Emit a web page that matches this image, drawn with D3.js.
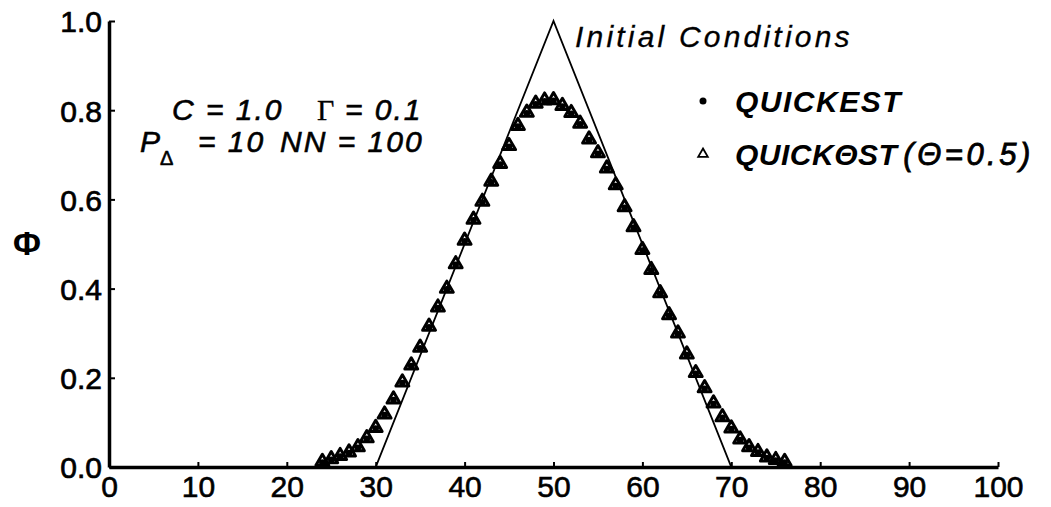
<!DOCTYPE html>
<html>
<head>
<meta charset="utf-8">
<script src="https://cdn.jsdelivr.net/npm/d3@7"></script>
<style>
  html, body { margin: 0; padding: 0; background: #fff; }
  svg { display: block; }
  text { font-family: "Liberation Sans", Arial, Helvetica, sans-serif; fill: #000; }
</style>
</head>
<body>
<svg id="chart" width="1051" height="507"></svg>
<script>
// ---- data ----
const xTicks = [0, 10, 20, 30, 40, 50, 60, 70, 80, 90, 100];
const yTicks = [0.0, 0.2, 0.4, 0.6, 0.8, 1.0];
const yTickLabels = ["0.0", "0.2", "0.4", "0.6", "0.8", "1.0"];

// initial conditions (triangle)
const initX = [0, 30, 50, 70, 100];
const initPhi = [0, 0, 1.0, 0, 0];

// grid nodes where the solutions are plotted
const nodeX = [24, 25, 26, 27, 28, 29, 30, 31, 32, 33, 34, 35, 36, 37, 38, 39, 40,
  41, 42, 43, 44, 45, 46, 47, 48, 49, 50, 51, 52, 53, 54, 55, 56, 57, 58, 59, 60,
  61, 62, 63, 64, 65, 66, 67, 68, 69, 70, 71, 72, 73, 74, 75, 76];

// QUICKEST (dots)
const phiQuickest = [0.012, 0.018, 0.025, 0.033, 0.045, 0.065, 0.088, 0.118, 0.152, 0.19,
  0.228, 0.268, 0.315, 0.358, 0.40, 0.455, 0.508, 0.555, 0.595, 0.64, 0.68, 0.72, 0.765,
  0.795, 0.815, 0.822, 0.823, 0.81, 0.794, 0.77, 0.735, 0.704, 0.67, 0.632, 0.583, 0.538,
  0.487, 0.442, 0.39, 0.341, 0.30, 0.253, 0.211, 0.177, 0.143, 0.112, 0.087, 0.062, 0.045,
  0.034, 0.022, 0.016, 0.012];

// QUICK-theta-ST, theta = 0.5 (open triangles)
const phiQuickTheta = [0.012, 0.018, 0.025, 0.033, 0.045, 0.065, 0.088, 0.118, 0.152, 0.19,
  0.228, 0.268, 0.315, 0.358, 0.40, 0.455, 0.508, 0.555, 0.595, 0.64, 0.68, 0.72, 0.765,
  0.795, 0.815, 0.822, 0.823, 0.81, 0.794, 0.77, 0.735, 0.704, 0.67, 0.632, 0.583, 0.538,
  0.487, 0.442, 0.39, 0.341, 0.30, 0.253, 0.211, 0.177, 0.143, 0.112, 0.087, 0.062, 0.045,
  0.034, 0.022, 0.016, 0.012];

// ---- drawing ----
const svg = d3.select("#chart");
const x = d3.scaleLinear().domain([0, 100]).range([109, 998]);
const y = d3.scaleLinear().domain([0, 1]).range([467, 21]);

// axes
const xAxis = d3.axisBottom(x).tickValues(xTicks).tickSizeInner(-5).tickSizeOuter(0).tickPadding(13)
  .tickFormat(d => String(d));
const gx = svg.append("g").attr("transform", `translate(0,${y(0)})`).call(xAxis);
gx.select(".domain").attr("stroke", "#000").attr("stroke-width", 3.5);
gx.selectAll(".tick line").attr("stroke", "#000").attr("stroke-width", 2);
gx.selectAll(".tick text").attr("font-size", 30).attr("dy", "0.71em")
  .attr("y", 9).attr("stroke", "#000").attr("stroke-width", 0.6)
  .style("font-family", '"Liberation Sans", Arial, sans-serif');

const yAxis = d3.axisLeft(y).tickValues(yTicks).tickSizeInner(-6).tickSizeOuter(0).tickPadding(8)
  .tickFormat((d, i) => yTickLabels[i]);
const gy = svg.append("g").attr("transform", `translate(${x(0)},0)`).call(yAxis);
gy.select(".domain").attr("stroke", "#000").attr("stroke-width", 3.5);
gy.selectAll(".tick line").attr("stroke", "#000").attr("stroke-width", 2);
gy.selectAll(".tick text").attr("font-size", 30).attr("x", -7).attr("dy", "0.36em")
  .attr("stroke", "#000").attr("stroke-width", 0.7)
  .style("font-family", '"Liberation Sans", Arial, sans-serif');

// initial conditions line
const initData = initX.map((d, i) => [d, initPhi[i]]);
svg.append("path")
  .datum(initData)
  .attr("fill", "none")
  .attr("stroke", "#000")
  .attr("stroke-width", 1.8)
  .attr("stroke-linejoin", "miter")
  .attr("d", d3.line().x(d => x(d[0])).y(d => y(d[1])));

// QUICKTHETAST triangles
const tri = d3.symbol().type(d3.symbolTriangle).size(72);
svg.append("g").selectAll("path")
  .data(nodeX.map((d, i) => [d, phiQuickTheta[i]]))
  .join("path")
  .attr("d", tri)
  .attr("transform", d => `translate(${x(d[0])},${y(d[1])})`)
  .attr("fill", "none")
  .attr("stroke", "#000")
  .attr("stroke-width", 3)
  .attr("stroke-linejoin", "round");

// QUICKEST dots
svg.append("g").selectAll("circle")
  .data(nodeX.map((d, i) => [d, phiQuickest[i]]))
  .join("circle")
  .attr("cx", d => x(d[0]))
  .attr("cy", d => y(d[1]) + 0.8)
  .attr("r", 3.3)
  .attr("fill", "#000");

// y label
svg.append("text")
  .attr("x", 27).attr("y", 255)
  .attr("text-anchor", "middle")
  .attr("font-size", 34).attr("font-weight", "bold")
  .text("Φ");

// parameter annotation
const ann = svg.append("g").attr("font-size", 30).attr("font-style", "italic")
  .attr("stroke", "#000").attr("stroke-width", 0.6);
ann.append("text").attr("x", 172).attr("y", 120).attr("letter-spacing", 2).text("C = 1.0");
ann.append("text").attr("x", 317).attr("y", 120).attr("font-style", "normal")
  .style("font-family", '"Liberation Serif", "DejaVu Serif", serif').attr("stroke-width", 0.3).text("Γ");
ann.append("text").attr("x", 345).attr("y", 120).attr("letter-spacing", 2).text("= 0.1");
ann.append("text").attr("x", 140).attr("y", 152).text("P");
ann.append("text").attr("x", 160).attr("y", 165).attr("font-size", 20).attr("font-style", "normal").text("Δ");
ann.append("text").attr("x", 198).attr("y", 152).attr("letter-spacing", 2).text("= 10");
ann.append("text").attr("x", 280).attr("y", 152).attr("letter-spacing", 2).text("NN = 100");

// Initial Conditions label
svg.append("text").attr("x", 575).attr("y", 47).attr("font-size", 30)
  .attr("font-style", "italic").attr("letter-spacing", 3.2)
  .attr("stroke", "#000").attr("stroke-width", 0.3).text("Initial Conditions");

// legend
const leg = svg.append("g");
leg.append("circle").attr("cx", 703).attr("cy", 101).attr("r", 3.5).attr("fill", "#000");
leg.append("text").attr("x", 735).attr("y", 112).attr("font-size", 30).attr("font-style", "italic")
  .attr("font-weight", "bold").attr("letter-spacing", 1.5).text("QUICKEST");
leg.append("path").attr("d", d3.symbol().type(d3.symbolTriangle).size(40)())
  .attr("transform", "translate(703,154)").attr("fill", "none").attr("stroke", "#000").attr("stroke-width", 1.8);
const l2 = leg.append("text").attr("x", 735).attr("y", 165).attr("font-size", 30).attr("font-style", "italic")
  .attr("font-weight", "bold").attr("letter-spacing", 0.5);
l2.append("tspan").text("QUICKΘST");
l2.append("tspan").attr("dx", 6).attr("font-weight", "normal").attr("stroke", "#000").attr("stroke-width", 0.8)
  .attr("font-size", 31).attr("letter-spacing", 3.5).text("(Θ=0.5)");
</script>
</body>
</html>
